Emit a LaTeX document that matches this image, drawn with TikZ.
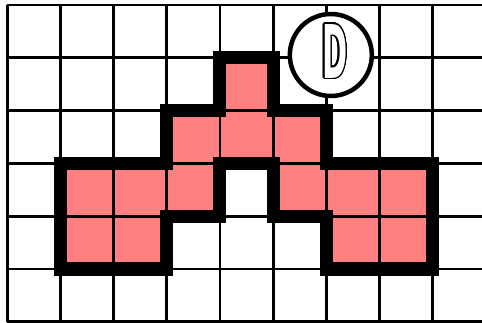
\documentclass[tikz,border=0pt]{standalone}
\usepackage{fontspec}
\setmainfont{DejaVu Sans}
\usepackage{contour}
\contourlength{1.6pt}
\definecolor{shapepink}{RGB}{255,128,128}
\tikzset{
  gridline/.style={draw=black, line width=2.8pt},
  outline/.style={draw=black, line width=13pt, line join=miter},
  badge/.style={circle, draw=black, line width=4.5pt, fill=white, minimum size=82pt, inner sep=0pt},
  dlabel/.style={inner sep=0pt, text=white, font=\bfseries\fontsize{74pt}{74pt}\selectfont}
}
\begin{document}
\begin{tikzpicture}[x=1pt,y=-1pt]
\useasboundingbox (0,0) rectangle (482,323);
\fill[white] (0,0) rectangle (482,323);
\begin{scope}[shift={(7.3,5)}, x=53.17pt, y=-52.8pt]
  \fill[shapepink] (4,1) -- (5,1) -- (5,2) -- (6,2) -- (6,3) -- (8,3) -- (8,5) -- (6,5) -- (6,4) -- (5,4) -- (5,3) -- (4,3) -- (4,4) -- (3,4) -- (3,5) -- (1,5) -- (1,3) -- (3,3) -- (3,2) -- (4,2) -- cycle;
  \foreach \i in {0,...,8} \draw[gridline] (\i,0) -- (\i,6);
  \foreach \j in {0,...,6} \draw[gridline] (0,\j) -- (9,\j);
  \draw[outline] (4,1) -- (5,1) -- (5,2) -- (6,2) -- (6,3) -- (8,3) -- (8,5) -- (6,5) -- (6,4) -- (5,4) -- (5,3) -- (4,3) -- (4,4) -- (3,4) -- (3,5) -- (1,5) -- (1,3) -- (3,3) -- (3,2) -- (4,2) -- cycle;
  \node[badge] (badge) at (6.085,0.947) {};
  \node[dlabel, xshift=4pt, yshift=3pt] (dletter) at (badge.center) {\contour{black}{\scalebox{0.41}[1]{D}}};
\end{scope}
\end{tikzpicture}
\end{document}
